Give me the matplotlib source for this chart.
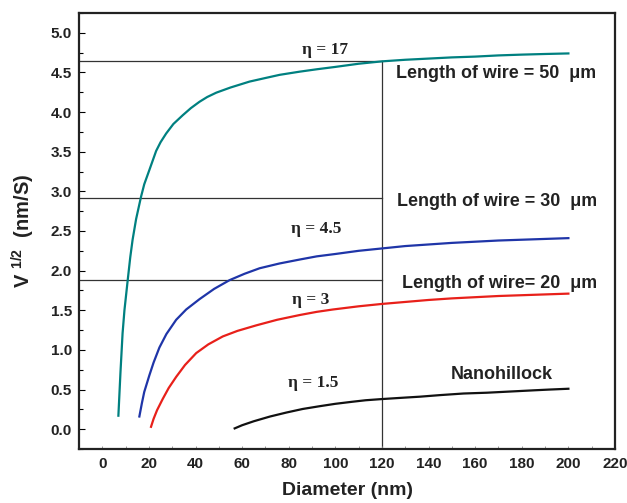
import matplotlib
matplotlib.use("Agg")
import matplotlib.pyplot as plt
from matplotlib.ticker import MultipleLocator

plt.rcParams['mathtext.fontset'] = 'custom'
plt.rcParams['mathtext.rm'] = 'Liberation Sans'
plt.rcParams['mathtext.bf'] = 'Liberation Sans:bold'

# Length of wire = 50 um (eta = 17)
d_50 = [6.9, 7.8, 8.7, 9.5, 10.9, 12.0, 13.0, 14.5, 16.6, 18.0, 20.2, 23.1, 25.0, 27.4, 30.5, 34.5, 38.0, 41.7, 45.0,
        48.9, 55.0, 63.2, 70.0, 76.1, 84.7, 92.0, 100.0, 110.0, 120.0, 130.0, 140.0, 150.0, 160.0, 170.0, 180.0, 190.0, 200.0]
v_50 = [0.17, 0.72, 1.21, 1.50, 1.88, 2.17, 2.39, 2.65, 2.93, 3.09, 3.27, 3.51, 3.62, 3.73, 3.85, 3.96, 4.05, 4.13, 4.19,
        4.245, 4.31, 4.385, 4.43, 4.47, 4.51, 4.54, 4.57, 4.61, 4.64, 4.66, 4.675, 4.69, 4.70, 4.715, 4.725, 4.733, 4.74]

# Length of wire = 30 um (eta = 4.5)
d_30 = [15.9, 17.0, 18.0, 20.2, 22.0, 24.5, 27.5, 31.7, 36.0, 41.7, 48.0, 54.6, 61.0, 67.5, 76.0, 84.7, 92.0, 100.0,
        110.0, 120.0, 130.0, 140.0, 150.0, 160.0, 170.0, 180.0, 190.0, 200.0]
v_30 = [0.16, 0.33, 0.47, 0.68, 0.84, 1.03, 1.20, 1.38, 1.51, 1.64, 1.77, 1.88, 1.96, 2.03, 2.09, 2.14, 2.18, 2.21,
        2.25, 2.28, 2.31, 2.33, 2.35, 2.365, 2.38, 2.39, 2.40, 2.41]

# Length of wire = 20 um (eta = 3)
d_20 = [20.9, 22.0, 23.5, 25.9, 28.5, 31.7, 35.5, 40.3, 45.5, 51.7, 58.0, 66.1, 75.0, 84.7, 92.0, 99.0, 110.0,
        120.0, 130.0, 140.0, 150.0, 160.0, 170.0, 180.0, 190.0, 200.0]
v_20 = [0.03, 0.13, 0.24, 0.38, 0.52, 0.66, 0.81, 0.96, 1.07, 1.17, 1.24, 1.31, 1.38, 1.44, 1.48, 1.51, 1.55,
        1.58, 1.605, 1.63, 1.65, 1.665, 1.68, 1.69, 1.70, 1.71]

# Nanohillock (eta = 1.5)
d_nh = [56.8, 60.0, 65.0, 72.0, 79.0, 86.0, 93.3, 100.0, 107.0, 113.0, 120.0, 128.0, 136.3, 145.0, 155.0, 165.0,
        175.0, 185.0, 192.0, 200.0]
v_nh = [0.01, 0.05, 0.10, 0.16, 0.21, 0.255, 0.29, 0.32, 0.345, 0.365, 0.38, 0.395, 0.41, 0.43, 0.45, 0.46,
        0.475, 0.49, 0.50, 0.51]

ref_levels = [4.64, 2.92, 1.885]
ref_x = 120

xticks = [0, 20, 40, 60, 80, 100, 120, 140, 160, 180, 200, 220]
yticks = [0.0, 0.5, 1.0, 1.5, 2.0, 2.5, 3.0, 3.5, 4.0, 4.5, 5.0]

fig = plt.figure(figsize=(6.27, 5.03), dpi=100)
ax = fig.add_axes([79/627, 1-449/503, (615-79)/627, (449-13)/503])

ax.set_xlim(-10, 220)
ax.set_ylim(-0.25, 5.25)

# reference lines
for lv in ref_levels:
    ax.plot([-10, ref_x], [lv, lv], color='#333333', lw=0.9, zorder=1)
ax.plot([ref_x, ref_x], [-0.25, ref_levels[0]], color='#333333', lw=0.9, zorder=1)

ax.plot(d_50, v_50, color='#008080', lw=1.6, zorder=2)
ax.plot(d_30, v_30, color='#1f35a8', lw=1.6, zorder=2)
ax.plot(d_20, v_20, color='#e8201a', lw=1.6, zorder=2)
ax.plot(d_nh, v_nh, color='#111111', lw=1.6, zorder=2)

ax.set_xticks(xticks)
ax.set_yticks(yticks)
ax.set_xticklabels([str(t) for t in xticks])
ax.set_yticklabels([f"{t:.1f}" for t in yticks])
ax.xaxis.set_minor_locator(MultipleLocator(10))
ax.yaxis.set_minor_locator(MultipleLocator(0.25))
ax.tick_params(axis='both', which='both', direction='in', top=False, right=False)
ax.tick_params(axis='y', which='major', length=4, width=0.8, pad=5)
ax.tick_params(axis='y', which='minor', length=3, width=0.8)
ax.tick_params(axis='x', which='major', length=2, width=0.6, color='#888888', pad=6)
ax.tick_params(axis='x', which='minor', length=2, width=0.6, color='#888888')
for lab in ax.get_xticklabels() + ax.get_yticklabels():
    lab.set_fontfamily('Liberation Sans')
    lab.set_fontweight('bold')
    lab.set_fontsize(11)
    lab.set_color('#222222')
for sp in ax.spines.values():
    sp.set_linewidth(1.6)
    sp.set_color('#222222')

ax.set_xlabel('Diameter (nm)', fontfamily='Liberation Sans', fontweight='bold', fontsize=14, labelpad=8, color='#222222')
ax.set_ylabel(r'V $^{\mathbf{1/2}}$  (nm/S)', fontfamily='Liberation Sans', fontweight='bold', fontsize=14.5, labelpad=10, color='#222222')

serif = dict(fontfamily='Liberation Serif', fontsize=12.5, fontweight='bold', color='#222222', ha='center', va='center')
ax.text(95.5, 4.78, 'η = 17', **serif)
ax.text(91.6, 2.53, 'η = 4.5', **serif)
ax.text(89.4, 1.63, 'η = 3', **serif)
ax.text(90.5, 0.58, 'η = 1.5', **serif)

sans = dict(fontfamily='Liberation Sans', fontsize=12.9, fontweight='bold', color='#222222', ha='left', va='center')
ax.text(126, 4.49, 'Length of wire = 50  μm', **sans)
ax.text(126.3, 2.87, 'Length of wire = 30  μm', **sans)
ax.text(128.5, 1.84, 'Length of wire= 20  μm', **sans)
ax.text(171.6, 0.69, 'Nanohillock', fontfamily='Liberation Sans', fontsize=13, fontweight='bold', color='#222222', ha='center', va='center')

fig.savefig('out.png', dpi=100)
